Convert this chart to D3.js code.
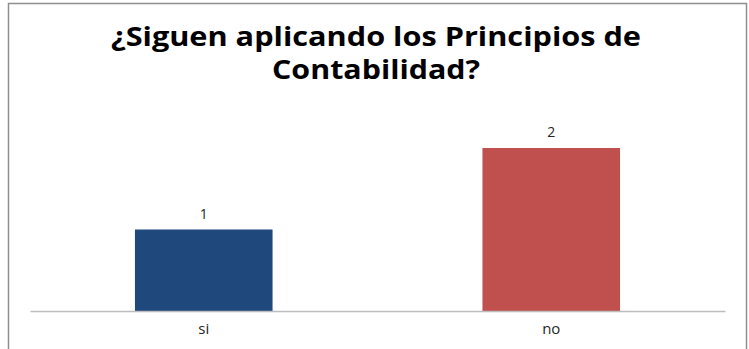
<!DOCTYPE html>
<html>
<head>
<meta charset="utf-8">
<script src="https://cdn.jsdelivr.net/npm/d3@7"></script>
<style>
  html, body { margin: 0; padding: 0; background: #fff; }
  svg { display: block; }
</style>
</head>
<body>
<script>
// Survey answers: are the accounting principles still applied?
const categories = ["si", "no"];
const counts = [1, 2];
const barColors = ["#1F497D", "#C0504D"];
const titleLines = ["¿Siguen aplicando los Principios de", "Contabilidad?"];
const titleWidths = [530, 208];

const W = 749, H = 349;
const svg = d3.select("body").append("svg").attr("width", W).attr("height", H);

// chart frame
svg.append("rect")
  .attr("x", 8.5).attr("y", 3.5)
  .attr("width", 738).attr("height", 360)
  .attr("fill", "#fff").attr("stroke", "#8e8e8e").attr("stroke-width", 1.5);

// title
const title = svg.append("text")
  .attr("text-anchor", "middle")
  .attr("font-family", "'Open Sans', sans-serif")
  .attr("font-weight", "bold")
  .attr("font-size", 27)
  .attr("fill", "#000");
titleLines.forEach((t, i) => {
  title.append("tspan")
    .attr("x", 376).attr("y", 46 + i * 33)
    .attr("textLength", titleWidths[i])
    .attr("lengthAdjust", "spacingAndGlyphs")
    .text(t);
});

// plot area
const plot = { left: 30, right: 725, bottom: 311 };
const x = d3.scaleBand()
  .domain(categories)
  .range([plot.left, plot.right])
  .paddingInner(0.604)
  .paddingOuter(0.302);
const y = d3.scaleLinear().domain([0, 2]).range([plot.bottom, 148]);

svg.selectAll("rect.bar")
  .data(categories)
  .join("rect")
  .attr("class", "bar")
  .attr("x", d => x(d))
  .attr("width", x.bandwidth())
  .attr("y", (d, i) => y(counts[i]))
  .attr("height", (d, i) => y(0) - y(counts[i]))
  .attr("fill", (d, i) => barColors[i]);

// value labels
svg.selectAll("text.val")
  .data(categories)
  .join("text")
  .attr("class", "val")
  .attr("x", d => x(d) + x.bandwidth() / 2)
  .attr("y", (d, i) => y(counts[i]) - 11)
  .attr("text-anchor", "middle")
  .attr("font-family", "'Open Sans', sans-serif")
  .attr("font-size", 14)
  .attr("fill", "#262626")
  .text((d, i) => counts[i]);

// category axis
const axis = svg.append("g")
  .attr("transform", `translate(0,${plot.bottom})`)
  .call(d3.axisBottom(x).tickSize(0).tickPadding(12));
axis.select(".domain").attr("stroke", "#bdbdbd").attr("stroke-width", 1.5);
axis.selectAll(".tick text")
  .attr("font-family", "'Open Sans', sans-serif")
  .attr("font-size", 15)
  .attr("fill", "#262626");
</script>
</body>
</html>
